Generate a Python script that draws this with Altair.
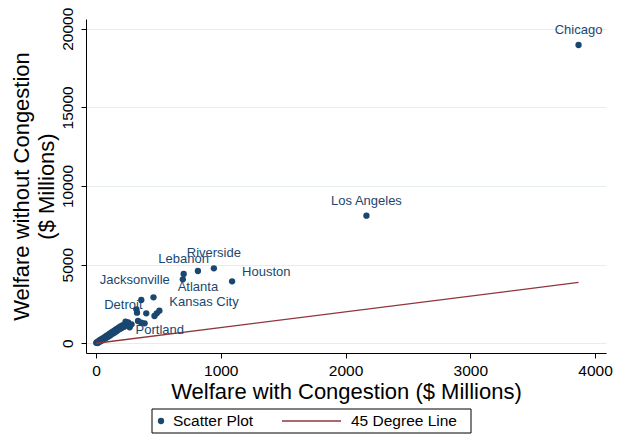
import altair as alt
import pandas as pd

# ---- data ----
city = ["Chicago", "Los Angeles", "Houston", "Riverside", "Atlanta", "Lebanon",
        "Jacksonville", "Kansas City", "Detroit", "Portland",
        "", "", "", "", "", "", "", "", "", "", "",
        "", "", "", "", "", "", "", "", "", "", "", "", "", "", "", "", "", "", "", "",
        "", "", "", "", "", "", "", "", "", "", "", "", "", "", "", "", "", "", ""]
wc = [3868, 2168, 1091, 945, 817, 703, 696, 508, 461, 237,
      363, 324, 329, 403, 487, 469, 337, 363, 390, 285, 192,
      2, 8, 12, 18, 22, 28, 33, 38, 42, 48, 52, 58, 62, 68, 72, 78, 82, 88, 92, 98,
      102, 108, 112, 118, 122, 128, 132, 138, 142, 148, 152, 158, 162, 168, 172, 178, 182, 188, 195]
wnc = [18964, 8112, 3941, 4768, 4597, 4405, 4069, 2072, 2924, 1373,
       2753, 2161, 1945, 1907, 1907, 1735, 1418, 1310, 1271, 1208, 954,
       30, 70, 20, 120, 60, 180, 110, 230, 160, 280, 200, 330, 250, 380, 300, 430, 350, 480, 400, 540,
       450, 590, 500, 640, 560, 700, 610, 750, 660, 800, 710, 860, 760, 910, 820, 970, 880, 1030, 930]
wc += [200, 208, 215, 222, 230, 240, 250, 265, 258, 270]
wnc += [1090, 990, 1150, 1040, 1200, 1110, 1260, 1180, 1330, 1020]
city += [""] * 10

legend_labels = ["Scatter Plot", "45 Degree Line"]
x_ticks = [0, 1000, 2000, 3000, 4000]
y_ticks = [0, 5000, 10000, 15000, 20000]

# ---- style ----
NAVY = "#1a476f"
MAROON = "#90353b"
FONT = "Liberation Sans"

df = pd.DataFrame({"city": city, "wc": wc, "wnc": wnc})
line_df = pd.DataFrame({"wc": [min(wc), max(wc)], "wnc": [min(wc), max(wc)]})

x_scale = alt.Scale(domain=[-80, 4088], nice=False, zero=False)
y_scale = alt.Scale(domain=[-617, 20617], nice=False, zero=False)

x_enc = alt.X("wc:Q", scale=x_scale,
              axis=alt.Axis(values=x_ticks, format="d", grid=False,
                            title="Welfare with Congestion ($ Millions)",
                            labelPadding=5, titlePadding=3))
y_enc = alt.Y("wnc:Q", scale=y_scale,
              axis=alt.Axis(values=y_ticks, format="d", grid=True,
                            title=["Welfare without Congestion", "($ Millions)"],
                            labelAngle=270, labelAlign="center", labelBaseline="bottom",
                            labelPadding=6, titlePadding=2, titleLineHeight=25))

points = alt.Chart(df).mark_circle(size=40, color=NAVY, opacity=1).encode(x=x_enc, y=y_enc)

line = alt.Chart(line_df).mark_line(color=MAROON, strokeWidth=1.3).encode(
    x=alt.X("wc:Q", scale=x_scale), y=alt.Y("wnc:Q", scale=y_scale))


def labels(names, align, dx, dy):
    return alt.Chart(df).transform_filter(
        alt.FieldOneOfPredicate(field="city", oneOf=names)
    ).mark_text(align=align, baseline="middle", dx=dx, dy=dy, fontSize=13,
                font=FONT, color=NAVY).encode(
        x=alt.X("wc:Q", scale=x_scale), y=alt.Y("wnc:Q", scale=y_scale), text="city:N")


lab_top = labels(["Chicago", "Los Angeles", "Riverside", "Lebanon"], "center", 0, -15)
lab_bottom = labels(["Atlanta"], "center", 0, 16)
lab_left = labels(["Jacksonville"], "right", -13, 1)
lab_upright = labels(["Houston", "Kansas City"], "left", 10, -9)
lab_downright = labels(["Portland"], "left", 10, 8)
lab_downleft = labels(["Detroit"], "right", -11, 8)

# ---- legend box below the plot ----
one = pd.DataFrame({"k": [0]})
LY = 402
leg_box = alt.Chart(one).mark_rect(fill="white", stroke="black", strokeWidth=1).encode(
    x=alt.value(66), x2=alt.value(385), y=alt.value(390), y2=alt.value(414))
leg_dot = alt.Chart(one).mark_circle(size=40, color=NAVY, opacity=1).encode(
    x=alt.value(75), y=alt.value(LY))
leg_line = alt.Chart(one).mark_rule(color=MAROON, strokeWidth=1.3).encode(
    x=alt.value(196), x2=alt.value(255), y=alt.value(LY))
leg_t1 = alt.Chart(one).mark_text(align="left", baseline="middle", fontSize=15.5,
                                  font=FONT, color="black").encode(
    x=alt.value(87), y=alt.value(LY), text=alt.value(legend_labels[0]))
leg_t2 = alt.Chart(one).mark_text(align="left", baseline="middle", fontSize=15.5,
                                  font=FONT, color="black").encode(
    x=alt.value(265), y=alt.value(LY), text=alt.value(legend_labels[1]))

chart = alt.layer(
    points, line, lab_top, lab_bottom, lab_left, lab_upright, lab_downright, lab_downleft,
    leg_box, leg_dot, leg_line, leg_t1, leg_t2
).properties(
    width=520, height=334,
    autosize=alt.AutoSizeParams(type="none"),
    padding={"left": 78, "top": 11, "right": 7, "bottom": 81},
    background="white",
).configure_view(stroke=None).configure_axis(
    labelFont=FONT, titleFont=FONT, labelFontSize=15.5, titleFontSize=22,
    titleFontWeight="normal", labelColor="black", titleColor="black",
    domainColor="black", tickColor="black", tickSize=5, domainWidth=1, tickWidth=1,
    gridColor="#e6edf0", gridWidth=1,
)

chart.save("out.html", embed_options={"renderer": "svg", "actions": False})
